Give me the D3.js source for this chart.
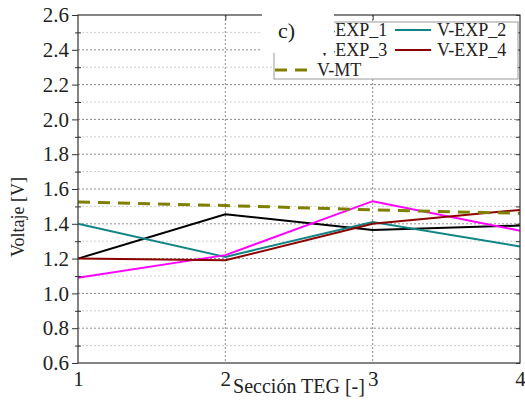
<!DOCTYPE html>
<html>
<head>
<meta charset="utf-8">
<script src="https://cdn.jsdelivr.net/npm/d3@7"></script>
<style>
  html, body { margin: 0; padding: 0; background: #fff; }
  svg { display: block; }
</style>
</head>
<body>
<svg id="chart" width="525" height="405"></svg>
<script>
// TEG sections and measured voltages
const sections = [1, 2, 3, 4];
const vExp1 = [1.20, 1.455, 1.365, 1.39];
const vExp2 = [1.40, 1.21, 1.41, 1.27];
const vExp3 = [1.09, 1.22, 1.53, 1.36];
const vExp4 = [1.20, 1.19, 1.40, 1.48];
const vMT   = [1.525, 1.505, 1.48, 1.46];

const seriesNames = ["V-EXP_1", "V-EXP_2", "V-EXP_3", "V-EXP_4", "V-MT"];
const seriesValues = [vExp1, vExp2, vExp3, vExp4, vMT];
const seriesColors = ["#000000", "#118585", "#ff00ff", "#8b0000", "#808000"];

const yTicks = [0.6, 0.8, 1.0, 1.2, 1.4, 1.6, 1.8, 2.0, 2.2, 2.4, 2.6];
const yMinor = [0.7, 0.9, 1.1, 1.3, 1.5, 1.7, 1.9, 2.1, 2.3, 2.5];
const xTicks = [1, 2, 3, 4];

const FONT = "'Liberation Serif', 'Times New Roman', Tinos, 'DejaVu Serif', serif";

const svg = d3.select("#chart");
const L = 78, R = 520, T = 15, B = 363;

const x = d3.scaleLinear().domain([1, 4]).range([L, R]);
const y = d3.scaleLinear().domain([0.6, 2.6]).range([B, T]);

// grid
const grid = svg.append("g");
grid.selectAll(".gminor").data(yMinor).join("line")
  .attr("x1", L).attr("x2", R)
  .attr("y1", d => y(d)).attr("y2", d => y(d))
  .attr("stroke", "#cfcfcf").attr("stroke-width", 1).attr("stroke-dasharray", "2,2");
grid.selectAll(".gmajor").data(yTicks.slice(1, -1)).join("line")
  .attr("x1", L).attr("x2", R)
  .attr("y1", d => y(d)).attr("y2", d => y(d))
  .attr("stroke", "#8a8a8a").attr("stroke-width", 1).attr("stroke-dasharray", "2,2");
grid.selectAll(".gx").data(xTicks.slice(1, -1)).join("line")
  .attr("x1", d => x(d)).attr("x2", d => x(d))
  .attr("y1", T).attr("y2", B)
  .attr("stroke", "#8a8a8a").attr("stroke-width", 1).attr("stroke-dasharray", "2,2");

// series
const line = d3.line().x((d, i) => x(sections[i])).y(d => y(d));
seriesValues.forEach((vals, k) => {
  svg.append("path")
    .datum(vals)
    .attr("d", line)
    .attr("fill", "none")
    .attr("stroke", seriesColors[k])
    .attr("stroke-width", k === 4 ? 3 : 2)
    .attr("stroke-dasharray", k === 4 ? "12,8" : null);
});

// frame
svg.append("rect").attr("x", L).attr("y", T).attr("width", R - L).attr("height", B - T)
  .attr("fill", "none").attr("stroke", "#333").attr("stroke-width", 1.2);

// axes
const yAxis = d3.axisLeft(y).tickValues(yTicks).tickFormat(d3.format(".1f")).tickSize(6).tickPadding(3);
const gy = svg.append("g").attr("transform", `translate(${L},0)`).call(yAxis);
gy.select(".domain").remove();
gy.selectAll(".tick line").attr("stroke", "#333");

const yMinorAxis = d3.axisLeft(y).tickValues(yMinor).tickSize(3).tickFormat("");
const gym = svg.append("g").attr("transform", `translate(${L + 3},0)`).call(yMinorAxis);
gym.select(".domain").remove();
gym.selectAll(".tick line").attr("stroke", "#333").attr("x2", -6);

const yRight = d3.axisLeft(y).tickValues(yTicks.concat(yMinor)).tickSize(4).tickFormat("");
const gyr = svg.append("g").attr("transform", `translate(${R},0)`).call(yRight);
gyr.select(".domain").remove();
gyr.selectAll(".tick line").attr("stroke", "#333");

const xAxis = d3.axisBottom(x).tickValues(xTicks).tickFormat(d3.format("d")).tickSize(0).tickPadding(8);
const gx = svg.append("g").attr("transform", `translate(0,${B})`).call(xAxis);
gx.select(".domain").remove();

const xTop = d3.axisBottom(x).tickValues(xTicks.slice(1, -1)).tickSize(5).tickFormat("");
const gxt = svg.append("g").attr("transform", `translate(0,${T})`).call(xTop);
gxt.select(".domain").remove();
gxt.selectAll(".tick line").attr("stroke", "#333");

[gy, gx].forEach(g => g.selectAll(".tick text")
  .style("font-family", FONT).style("font-size", "21px").attr("fill", "#222"));

// axis titles
svg.append("text")
  .attr("x", 299).attr("y", 393)
  .attr("text-anchor", "middle")
  .style("font-family", FONT).style("font-size", "20px").attr("fill", "#222")
  .text("Sección TEG [-]");
svg.append("text")
  .attr("transform", "translate(24,217) rotate(-90)")
  .attr("text-anchor", "middle")
  .style("font-family", FONT).style("font-size", "18px").attr("fill", "#222")
  .text("Voltaje [V]");

// legend
const lg = svg.append("g");
lg.append("rect").attr("x", 274).attr("y", 22).attr("width", 244).attr("height", 57)
  .attr("fill", "#fff").attr("stroke", "#999").attr("stroke-width", 1);
const legendPos = [
  { x: 276, y: 30 }, { x: 395, y: 30 },
  { x: 276, y: 50 }, { x: 395, y: 50 },
  { x: 275, y: 70 }
];
seriesNames.forEach((name, k) => {
  const p = legendPos[k];
  lg.append("line")
    .attr("x1", p.x).attr("x2", p.x + 36).attr("y1", p.y).attr("y2", p.y)
    .attr("stroke", seriesColors[k])
    .attr("stroke-width", k === 4 ? 3 : 2)
    .attr("stroke-dasharray", k === 4 ? "12,8" : null);
  lg.append("text")
    .attr("x", p.x + 42).attr("y", p.y + 6)
    .style("font-family", FONT).style("font-size", "18px").attr("fill", "#222")
    .text(name);
});

// panel label
svg.append("rect").attr("x", 262).attr("y", 0).attr("width", 72).attr("height", 53).attr("fill", "#fff");
svg.append("text").attr("x", 278).attr("y", 38)
  .style("font-family", FONT).style("font-size", "22px").attr("fill", "#222")
  .text("c)");
</script>
</body>
</html>
